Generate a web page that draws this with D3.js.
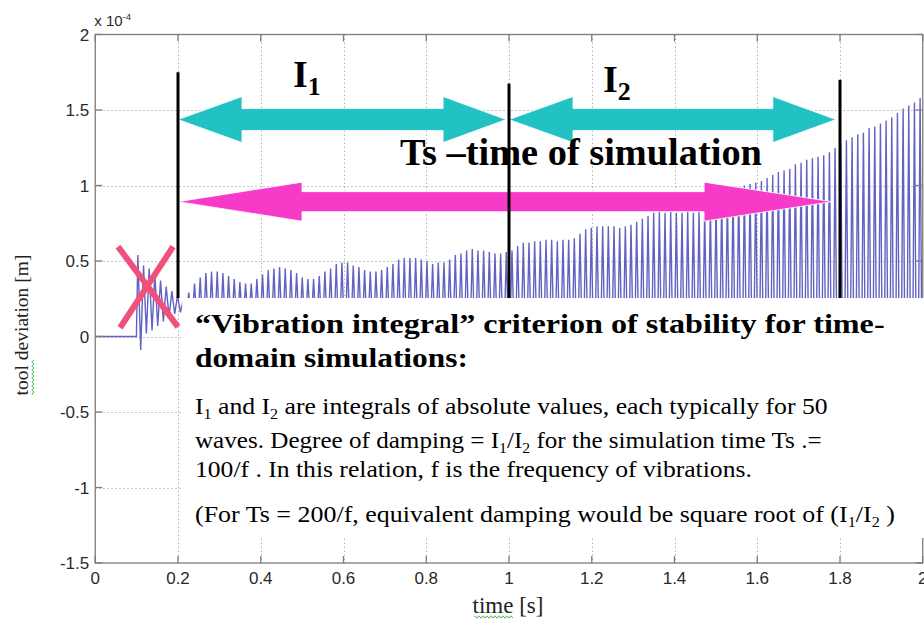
<!DOCTYPE html>
<html><head><meta charset="utf-8">
<script src="https://cdn.jsdelivr.net/npm/d3@7"></script>
<style>body{margin:0;background:#fff}svg{display:block}</style>
</head><body>
<svg id="c" width="924" height="619"></svg>
<script>
// ---------- data ----------
const xTicks = [0, 0.2, 0.4, 0.6, 0.8, 1, 1.2, 1.4, 1.6, 1.8, 2];
const xTickLabels = ["0", "0.2", "0.4", "0.6", "0.8", "1", "1.2", "1.4", "1.6", "1.8", "2"];
const yTicks = [-1.5, -1, -0.5, 0, 0.5, 1, 1.5, 2];
const yTickLabels = ["-1.5", "-1", "-0.5", "0", "0.5", "1", "1.5", "2"];
const xLabel = "time [s]";
const yLabel = "tool deviation [m]";
const yExponent = "-4";

// signal: rest at zero, then one peak and one trough per vibration cycle (x 10^-4 m)
const restTimes = [0, 0.0995];
const restValues = [0, 0];
const firstPeakTime = 0.103;   // s
const cyclePeriod = 0.0137;    // s
const peaks = [0.54,0.47,0.45,0.41,0.37,0.33,0.30,0.27,0.24,0.29,
  0.35,0.39,0.42,0.43,0.43,0.42,0.40,0.38,0.36,0.35,
  0.35,0.38,0.41,0.44,0.45,0.46,0.45,0.44,0.42,0.39,
  0.38,0.38,0.40,0.43,0.45,0.48,0.49,0.49,0.47,0.46,
  0.44,0.43,0.43,0.44,0.46,0.48,0.51,0.52,0.52,0.52,
  0.51,0.50,0.48,0.49,0.49,0.51,0.54,0.55,0.57,0.58,
  0.57,0.57,0.56,0.55,0.55,0.56,0.57,0.60,0.62,0.62,
  0.63,0.63,0.64,0.64,0.63,0.64,0.64,0.65,0.68,0.71,
  0.72,0.73,0.73,0.73,0.73,0.72,0.73,0.74,0.76,0.78,
  0.80,0.82,0.83,0.82,0.83,0.82,0.82,0.83,0.82,0.83,
  0.84,0.86,0.89,0.92,0.95,0.97,0.99,1.00,1.01,1.02,
  1.03,1.05,1.07,1.09,1.10,1.11,1.14,1.15,1.17,1.18,
  1.19,1.20,1.22,1.25,1.27,1.30,1.32,1.34,1.35,1.38,
  1.39,1.41,1.43,1.45,1.48,1.51,1.53,1.55,1.58];
const troughs = [-0.09,0.02,0.04,0.07,0.10,0.13,0.15,0.16,0.14,0.08,
  0.03,-0.01,-0.03,-0.03,-0.03,-0.01,0.01,0.03,0.05,0.05,
  0.04,0.01,-0.03,-0.05,-0.06,-0.06,-0.05,-0.03,-0.01,0.02,
  0.02,0.01,-0.02,-0.04,-0.07,-0.09,-0.09,-0.08,-0.07,-0.05,
  -0.04,-0.03,-0.04,-0.05,-0.07,-0.10,-0.12,-0.12,-0.12,-0.12,
  -0.11,-0.09,-0.09,-0.09,-0.10,-0.13,-0.15,-0.16,-0.18,-0.18,
  -0.17,-0.17,-0.16,-0.15,-0.16,-0.17,-0.19,-0.21,-0.22,-0.23,
  -0.23,-0.24,-0.24,-0.24,-0.24,-0.24,-0.25,-0.27,-0.30,-0.32,
  -0.33,-0.33,-0.33,-0.33,-0.33,-0.33,-0.34,-0.35,-0.37,-0.39,
  -0.41,-0.43,-0.43,-0.43,-0.43,-0.42,-0.43,-0.43,-0.43,-0.44,
  -0.45,-0.48,-0.51,-0.54,-0.56,-0.58,-0.60,-0.61,-0.62,-0.63,
  -0.64,-0.66,-0.68,-0.70,-0.71,-0.73,-0.75,-0.76,-0.78,-0.79,
  -0.80,-0.81,-0.84,-0.86,-0.89,-0.91,-0.93,-0.95,-0.97,-0.99,
  -1.00,-1.02,-1.04,-1.07,-1.10,-1.12,-1.14,-1.17,-1.19];

// annotation anchors (data units)
const markerTimes = [0.2, 1.0, 1.8];
const markerTops = [1.75, 1.675, 1.70];
const markerBottom = 0.255;
const intervalLabels = ["1", "2"];
const intervalStarts = [0.2, 1.0];
const intervalEnds = [0.993, 1.79];
const intervalLevel = 1.4365;
const simStart = 0.2, simEnd = 1.781, simLevel = 0.893;
const simLabel = "Ts \u2013time of simulation";
const boxTop = 0.255, boxBottom = -1.335, boxLeft = 0.21;

// ---------- drawing ----------
const svg = d3.select("#c");
const W = 924, H = 619;
const x = d3.scaleLinear([0, 2], [95.25, 922.75]);
const y = d3.scaleLinear([-1.5, 2], [563, 34.5]);
const [x0, x1] = x.range();
const [yb, yt] = y.range();
const serif = "'Liberation Serif', 'Times New Roman', serif";
const sans = "'Liberation Sans', Arial, sans-serif";

svg.append("rect").attr("width", W).attr("height", H).attr("fill", "#fff");

// grid
const grid = svg.append("g").attr("stroke", "#b4b4b4").attr("stroke-width", 1).attr("stroke-dasharray", "1.5,2.5");
grid.selectAll("line.gx").data(xTicks.slice(1, -1)).join("line")
  .attr("x1", d => Math.round(x(d)) + 0.5).attr("x2", d => Math.round(x(d)) + 0.5)
  .attr("y1", yt).attr("y2", yb);
grid.selectAll("line.gy").data(yTicks.slice(1, -1)).join("line")
  .attr("x1", x0).attr("x2", x1)
  .attr("y1", d => Math.round(y(d)) + 0.5).attr("y2", d => Math.round(y(d)) + 0.5);

// signal
svg.append("clipPath").attr("id", "pc").append("rect")
  .attr("x", x0).attr("y", yt).attr("width", x1 - x0).attr("height", yb - yt);
const pts = restTimes.map((t, i) => [t, restValues[i]]);
peaks.forEach((p, i) => {
  pts.push([firstPeakTime + i * cyclePeriod, p]);
  pts.push([firstPeakTime + (i + 0.5) * cyclePeriod, troughs[i]]);
});
svg.append("path").attr("clip-path", "url(#pc)")
  .attr("d", d3.line().x(d => x(d[0])).y(d => y(d[1]))(pts))
  .attr("fill", "none").attr("stroke", "#6262c2").attr("stroke-width", 1.4);

// axes box + inward ticks
const ax = svg.append("g").attr("stroke", "#7c7c7c").attr("stroke-width", 1.3).attr("fill", "none");
ax.append("rect").attr("x", x0).attr("y", yt).attr("width", x1 - x0).attr("height", yb - yt);
ax.selectAll("line.tb").data(xTicks).join("line")
  .attr("x1", d => x(d)).attr("x2", d => x(d)).attr("y1", yb).attr("y2", yb - 7);
ax.selectAll("line.tt").data(xTicks).join("line")
  .attr("x1", d => x(d)).attr("x2", d => x(d)).attr("y1", yt).attr("y2", yt + 7);
ax.selectAll("line.tl").data(yTicks).join("line")
  .attr("x1", x0).attr("x2", x0 + 7).attr("y1", d => y(d)).attr("y2", d => y(d));
ax.selectAll("line.tr").data(yTicks).join("line")
  .attr("x1", x1).attr("x2", x1 - 7).attr("y1", d => y(d)).attr("y2", d => y(d));

// tick labels
const tl = svg.append("g").style("font-family", sans).attr("font-size", 17).attr("fill", "#2a2a2a");
tl.selectAll("text.xl").data(xTicks).join("text")
  .attr("x", d => x(d)).attr("y", yb + 21).attr("text-anchor", "middle")
  .text((d, i) => xTickLabels[i]);
tl.selectAll("text.yl").data(yTicks).join("text")
  .attr("x", x0 - 6).attr("y", d => y(d) + 6).attr("text-anchor", "end")
  .text((d, i) => yTickLabels[i]);
const ex = tl.append("text").attr("x", x0 - 1).attr("y", yt - 9).attr("font-size", 15);
ex.append("tspan").text("x 10");
ex.append("tspan").attr("font-size", 9.5).attr("dy", -6).text(yExponent);

// axis labels
svg.append("text").style("font-family", serif).attr("font-size", 23).attr("fill", "#222")
  .attr("x", (x0 + x1) / 2 - 1).attr("y", 613).attr("text-anchor", "middle").text(xLabel);
svg.append("text").style("font-family", serif).attr("font-size", 19.5).attr("fill", "#222")
  .attr("transform", "translate(28," + 325 + ") rotate(-90)").attr("text-anchor", "middle").text(yLabel);
// spell-check squiggles
function squiggle(xa, ya, len, vertical) {
  let d = "M" + xa + "," + ya;
  for (let k = 0; k <= len; k += 2) {
    const o = (k / 2) % 2 ? 1.2 : -1.2;
    d += vertical ? " L" + (xa + o) + "," + (ya - k) : " L" + (xa + k) + "," + (ya + o);
  }
  svg.append("path").attr("d", d).attr("fill", "none").attr("stroke", "#3cb043").attr("stroke-width", 0.9);
}
squiggle(475, 617, 38, false);
squiggle(33, 394, 34, true);

// text box
svg.append("rect").attr("x", x(boxLeft)).attr("y", y(boxTop))
  .attr("width", W - x(boxLeft)).attr("height", y(boxBottom) - y(boxTop)).attr("fill", "#fff");

// arrows
function dblArrow(xa, xb, yc, s, hH, hA, hB, color) {
  const p = [[xa, yc], [xa + hA, yc - hH], [xa + hA, yc - s], [xb - hB, yc - s], [xb - hB, yc - hH], [xb, yc],
    [xb - hB, yc + hH], [xb - hB, yc + s], [xa + hA, yc + s], [xa + hA, yc + hH]];
  svg.append("polygon").attr("points", p.map(q => q.join(",")).join(" "))
    .attr("fill", color).attr("stroke", "#fff").attr("stroke-width", 0.8);
}
intervalStarts.forEach((s, i) => dblArrow(x(s), x(intervalEnds[i]), y(intervalLevel), 11, 23, 64, 63, "#22c2c4"));
dblArrow(x(simStart), x(simEnd), y(simLevel), 10, 19.5, 124, 128, "#f83ac8");

// marker lines
svg.selectAll("line.mk").data(markerTimes).join("line")
  .attr("x1", d => x(d)).attr("x2", d => x(d))
  .attr("y1", (d, i) => y(markerTops[i])).attr("y2", y(markerBottom))
  .attr("stroke", "#000").attr("stroke-width", 3);

// red cross
const cross = svg.append("g").attr("stroke", "#f0507a").attr("stroke-width", 6);
cross.append("line").attr("x1", x(0.055)).attr("y1", y(0.595)).attr("x2", x(0.2)).attr("y2", y(0.064));
cross.append("line").attr("x1", x(0.188)).attr("y1", y(0.595)).attr("x2", x(0.060)).attr("y2", y(0.058));

// helpers for text
function richText(parent, xa, ya, size, weight, parts, subSize, subShift) {
  const t = parent.append("text").attr("x", xa).attr("y", ya).style("font-family", serif)
    .attr("font-size", size).attr("font-weight", weight).attr("fill", "#000");
  let shifted = false;
  parts.forEach(p => {
    const sp = t.append("tspan").text(p.s);
    if (p.sub) { sp.attr("font-size", subSize).attr("dy", subShift); shifted = true; }
    else if (shifted) { sp.attr("dy", -subShift); shifted = false; }
  });
  return t;
}
function fit(t, xa, w) {
  const k = w / t.node().getBBox().width;
  t.attr("transform", "translate(" + xa + ",0) scale(" + k + ",1) translate(" + (-xa) + ",0)");
}

// I1 / I2 labels
const iX = [293, 603], iY = [87, 92];
intervalLabels.forEach((lab, i) => {
  richText(svg, iX[i], iY[i], 38, "bold", [{ s: "I" }, { s: lab, sub: true }], 26, 8);
});
const simT = richText(svg, 400, 165, 38, "bold", [{ s: simLabel }], 0, 0);
fit(simT, 400, 362);

// box text
const bx = 195;
const lines = [
  { y: 333, size: 27, w: "bold", width: 690, parts: [{ s: "\u201CVibration integral\u201D criterion of  stability for time-" }] },
  { y: 367, size: 27, w: "bold", width: 273, parts: [{ s: "domain simulations:" }] },
  { y: 414, size: 24, w: "normal", width: 633, parts: [{ s: "I" }, { s: "1", sub: true }, { s: " and I" }, { s: "2", sub: true }, { s: " are integrals of absolute values, each typically for 50" }] },
  { y: 448, size: 24, w: "normal", width: 627, parts: [{ s: "waves. Degree of damping = I" }, { s: "1", sub: true }, { s: "/I" }, { s: "2", sub: true }, { s: " for the  simulation time Ts .=" }] },
  { y: 477, size: 24, w: "normal", width: 557, parts: [{ s: "100/f . In this relation, f is the frequency of vibrations." }] },
  { y: 522, size: 24, w: "normal", width: 700, parts: [{ s: "(For Ts = 200/f, equivalent damping would be square root of  (I" }, { s: "1", sub: true }, { s: "/I" }, { s: "2", sub: true }, { s: " )" }] }
];
lines.forEach(L => {
  const t = richText(svg, bx, L.y, L.size, L.w, L.parts, 15, 5);
  fit(t, bx, L.width);
});
</script>
</body></html>
